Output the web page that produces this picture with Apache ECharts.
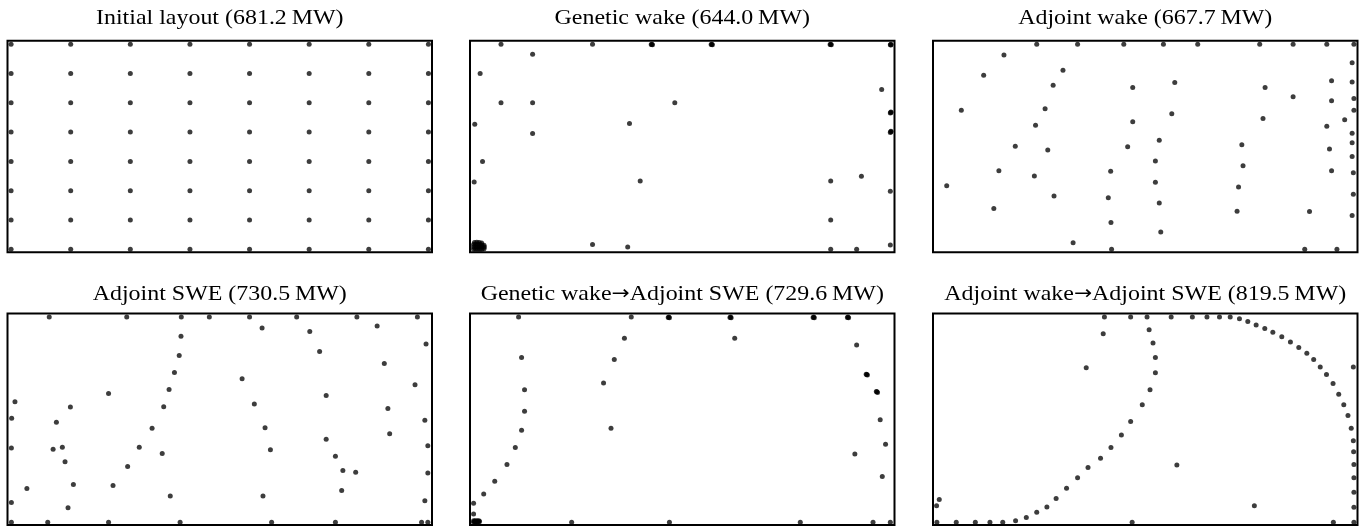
<!DOCTYPE html>
<html>
<head>
<meta charset="utf-8">
<script src="https://cdn.jsdelivr.net/npm/echarts@6/dist/echarts.min.js"></script>
<style>
  html, body { margin: 0; padding: 0; background: #fff; }
  #chart { width: 1367px; height: 527px; }
</style>
</head>
<body>
<div id="chart"></div>
<script>
// Turbine positions (metres) in a 1400 m x 700 m farm, one array per layout.

const panelTitles = [
  'Initial layout (681.2\u2009MW)',
  'Genetic wake (644.0\u2009MW)',
  'Adjoint wake (667.7\u2009MW)',
  'Adjoint SWE (730.5\u2009MW)',
  'Genetic wake{arr|\u2192}Adjoint SWE (729.6\u2009MW)',
  'Adjoint wake{arr|\u2192}Adjoint SWE (819.5\u2009MW)'
];

// Initial layout: regular 8 x 8 array
const initialColumns = [0, 200, 400, 600, 800, 1000, 1200, 1400];
const initialRows = [0, 100, 200, 300, 400, 500, 600, 700];

const geneticWake = [
  [92, 700], [399, 700],
  [598, 700], [600, 698], [596, 699],
  [799, 700], [801, 698], [797, 699],
  [1198, 700], [1200, 698], [1196, 699],
  [1400, 700], [1398, 698], [1400, 697],
  [198, 666], [22, 600], [1369, 545],
  [92, 500], [198, 500], [675, 500],
  [1400, 467], [1398, 465], [1400, 469],
  [4, 427], [523, 429],
  [1400, 401], [1398, 399], [1400, 403],
  [198, 395], [30, 300],
  [2, 230], [559, 233], [1198, 233], [1301, 249],
  [1398, 198], [1198, 100],
  [399, 16], [517, 8], [1198, 0], [1285, 0], [1398, 15],
  // cluster in the south-west corner
  [0, 0], [7, 0], [14, 0], [21, 0], [28, 0], [35, 2],
  [0, 8], [7, 8], [14, 8], [21, 8], [28, 8], [36, 8],
  [0, 16], [7, 16], [14, 16], [21, 16], [28, 15], [35, 14],
  [3, 23], [11, 24], [19, 23], [27, 21]
];

const adjointWake = [
  [336, 700], [473, 700], [628, 700], [761, 700], [876, 700],
  [1084, 700], [1196, 700], [1309, 700], [1400, 700],
  [226, 663], [158, 594], [424, 611], [391, 560], [1394, 637],
  [658, 552], [799, 569], [1102, 552], [1325, 575], [1394, 571],
  [1196, 521], [1325, 507], [1400, 515],
  [83, 475], [364, 480], [789, 463], [1400, 475],
  [332, 423], [658, 435], [1095, 446], [1369, 442], [1309, 420],
  [1394, 396], [1394, 364],
  [264, 352], [373, 339], [641, 350], [747, 372], [1024, 357], [1318, 342],
  [1394, 317], [734, 301], [1028, 285],
  [209, 268], [584, 266], [1325, 268], [1398, 261],
  [328, 250], [34, 217], [734, 229], [1013, 213],
  [394, 182], [576, 176], [747, 158], [1398, 188],
  [192, 139], [1008, 130], [1251, 129], [1394, 115],
  [585, 91], [752, 59], [458, 22],
  [587, 0], [1235, 0], [1343, 0]
];

const adjointSWE = [
  [128, 700], [388, 700], [571, 700], [665, 700],
  [800, 700], [958, 700], [1160, 700], [1363, 700],
  [842, 663], [1002, 651], [1228, 670],
  [570, 635], [1392, 608],
  [564, 569], [1035, 583], [1252, 542],
  [548, 511], [775, 490], [1355, 469],
  [530, 453], [327, 439], [1057, 432],
  [13, 411], [199, 393], [512, 394], [816, 403], [1264, 388],
  [2, 355], [152, 341], [1388, 348],
  [473, 321], [852, 322], [1270, 302], [1057, 283],
  [1, 253], [141, 249], [172, 256], [430, 256], [870, 247], [1398, 261],
  [507, 234], [181, 206], [1088, 225],
  [391, 190], [1113, 176], [1156, 170], [1398, 168],
  [53, 115], [209, 129], [342, 125], [1109, 108],
  [534, 89], [845, 89],
  [1, 67], [191, 49], [1388, 73],
  [1, 0], [123, 0], [327, 0], [567, 0],
  [874, 0], [1088, 0], [1377, 0], [1398, 0]
];

const geneticToSWE = [
  [151, 700], [529, 700],
  [655, 700], [657, 698], [653, 699],
  [862, 700], [864, 698], [860, 699],
  [1141, 700], [1143, 698], [1139, 699],
  [1256, 700], [1258, 698], [1254, 699],
  [506, 628], [876, 628], [1285, 605],
  [161, 562], [472, 555],
  [1319, 504], [1321, 502], [1317, 505],
  [436, 475],
  [1353, 445], [1355, 443], [1351, 446],
  [171, 452], [171, 379], [1364, 350],
  [161, 314], [461, 321],
  [140, 255], [1382, 266],
  [112, 197], [1279, 233],
  [71, 140], [1371, 156],
  [34, 96], [0, 65], [0, 28],
  [329, 0], [657, 0], [1096, 0], [1340, 0], [1398, 0],
  // cluster in the south-west corner
  [0, 0], [5, 0], [10, 0], [16, 0], [20, 2],
  [0, 5], [6, 5], [12, 5], [18, 5], [3, 3], [14, 3]
];

const adjointToSWE = [
  [563, 700], [651, 700], [706, 700], [787, 700],
  [858, 700], [907, 700], [949, 700], [985, 700],
  // outer arc
  [1016, 694], [1044, 685], [1072, 673], [1101, 661], [1128, 648],
  [1158, 633], [1187, 615], [1215, 596], [1242, 577], [1265, 555],
  [1287, 530], [1308, 504], [1330, 473], [1349, 437], [1366, 401],
  [1380, 364], [1391, 321], [1398, 278], [1399, 240], [1400, 197],
  [1400, 152], [1400, 102], [1400, 51], [1400, 0],
  // inner arc
  [713, 657], [726, 612], [734, 562], [734, 510], [716, 452],
  [690, 401], [651, 344], [620, 298], [585, 255], [550, 218],
  [508, 187], [473, 152], [436, 116], [401, 81], [370, 52],
  [336, 34], [301, 16], [265, 5], [222, 0], [179, 0],
  [130, 0], [66, 0], [1, 0],
  // scattered
  [559, 643], [502, 527], [1398, 530], [806, 195], [1066, 56],
  [9, 77], [0, 56], [656, 0], [1331, 0]
];

const initialLayout = [];
initialRows.forEach(function (y) {
  initialColumns.forEach(function (x) { initialLayout.push([x, y]); });
});

const layouts = [initialLayout, geneticWake, adjointWake, adjointSWE, geneticToSWE, adjointToSWE];

// Panel placement (3 columns x 2 rows)
const colLeft = [7.5, 470, 933];
const rowTop = [40.7, 313.6];
const panelW = 424.5;
const panelH = 211.5;
const titleY = [18, 294.5];
const titleSize = 21;
const titleStretch = 1.14;

const grids = [], xAxes = [], yAxes = [], series = [], graphics = [];
layouts.forEach(function (pts, i) {
  const c = i % 3, r = Math.floor(i / 3);
  grids.push({
    left: colLeft[c], top: rowTop[r], width: panelW, height: panelH,
    show: true, borderColor: '#000', borderWidth: 2, backgroundColor: '#fff'
  });
  const hidden = {
    axisLine: { show: false }, axisTick: { show: false },
    axisLabel: { show: false }, splitLine: { show: false }
  };
  xAxes.push(Object.assign({ type: 'value', gridIndex: i, min: -12, max: 1412 }, hidden));
  yAxes.push(Object.assign({ type: 'value', gridIndex: i, min: -10, max: 712 }, hidden));
  series.push({
    type: 'scatter', xAxisIndex: i, yAxisIndex: i, data: pts,
    symbol: 'circle', symbolSize: 5, clip: false,
    itemStyle: { color: '#000', opacity: 0.76 },
    emphasis: { disabled: true }, silent: true
  });
  graphics.push({
    type: 'text', x: colLeft[c] + panelW / 2, y: titleY[r],
    scaleX: titleStretch, scaleY: 1, silent: true,
    style: {
      text: panelTitles[i],
      fontFamily: '"Liberation Serif", "DejaVu Serif", serif',
      fontSize: titleSize, fill: '#000',
      textAlign: 'center', textVerticalAlign: 'middle',
      rich: {
        arr: { fontFamily: '"DejaVu Sans", sans-serif', fontSize: titleSize - 2, fill: '#000' }
      }
    }
  });
});

const chart = echarts.init(document.getElementById('chart'), null, { renderer: 'canvas' });
chart.setOption({
  animation: false,
  backgroundColor: '#fff',
  grid: grids,
  xAxis: xAxes,
  yAxis: yAxes,
  series: series,
  graphic: graphics
});
</script>
</body>
</html>
